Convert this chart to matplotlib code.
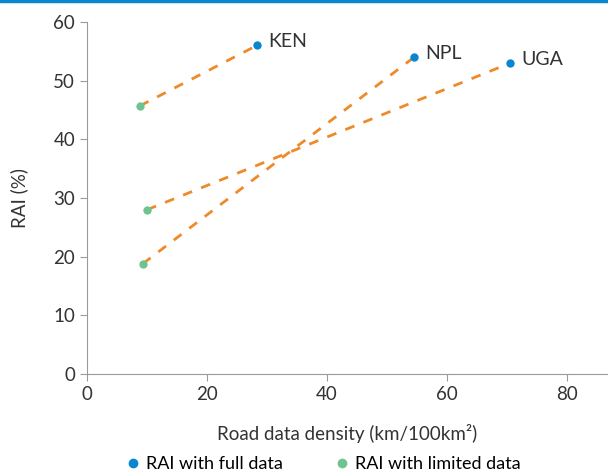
import matplotlib.pyplot as plt
from matplotlib.lines import Line2D

countries = ["KEN", "NPL", "UGA"]
full_x = [28.3, 54.5, 70.5]
full_y = [56.0, 54.0, 53.0]
limited_x = [8.8, 9.3, 10.0]
limited_y = [45.7, 18.8, 28.0]

plt.rcParams['font.family'] = ['Lato', 'DejaVu Sans']

blue = '#0a86cf'
green = '#6dc48f'
orange = '#ee8a2a'
grey = '#9a9a9a'
txt = '#333333'

fig = plt.figure(figsize=(6.08, 4.74), dpi=100)
ax = fig.add_axes([87 / 608, 100 / 474, 1 - 87 / 608, 352 / 474])

for x0, y0, x1, y1 in zip(limited_x, limited_y, full_x, full_y):
    ax.plot([x0, x1], [y0, y1], color=orange, lw=2, ls=(0, (3.5, 3.5)), zorder=1)

ax.scatter(full_x, full_y, color=blue, s=36, zorder=3, linewidths=0)
ax.scatter(limited_x, limited_y, color=green, s=36, zorder=3, linewidths=0)
for c, x, y in zip(countries, full_x, full_y):
    ax.text(x + 1.9, y + 0.6, c, fontsize=14, color=txt, va='center', ha='left')

ax.set_xlim(0, 86.8)
ax.set_ylim(0, 60)
ax.set_xticks([0, 20, 40, 60, 80])
ax.set_yticks(range(0, 61, 10))
for s in ['top', 'right']:
    ax.spines[s].set_visible(False)
for s in ['left', 'bottom']:
    ax.spines[s].set_color(grey)
ax.tick_params(colors=grey, labelcolor=txt, labelsize=13.5, length=5)
ax.set_xlabel('Road data density (km/100km²)', fontsize=13.5, color=txt, labelpad=15)
ax.set_ylabel('RAI (%)', fontsize=13.5, color=txt, labelpad=18)

handles = [Line2D([], [], marker='o', ls='', color=blue, markersize=6, label='RAI with full data'),
           Line2D([], [], marker='o', ls='', color=green, markersize=6, label='RAI with limited data')]
fig.legend(handles=handles, loc='center', bbox_to_anchor=(0.53, 10 / 474), ncol=2, frameon=False,
           fontsize=13, handletextpad=0.2, columnspacing=2.8, handlelength=1)

fig.add_artist(Line2D([0, 1], [1 - 1 / 474, 1 - 1 / 474], color=blue, lw=2.5, transform=fig.transFigure))

fig.savefig('out.png', dpi=100)
